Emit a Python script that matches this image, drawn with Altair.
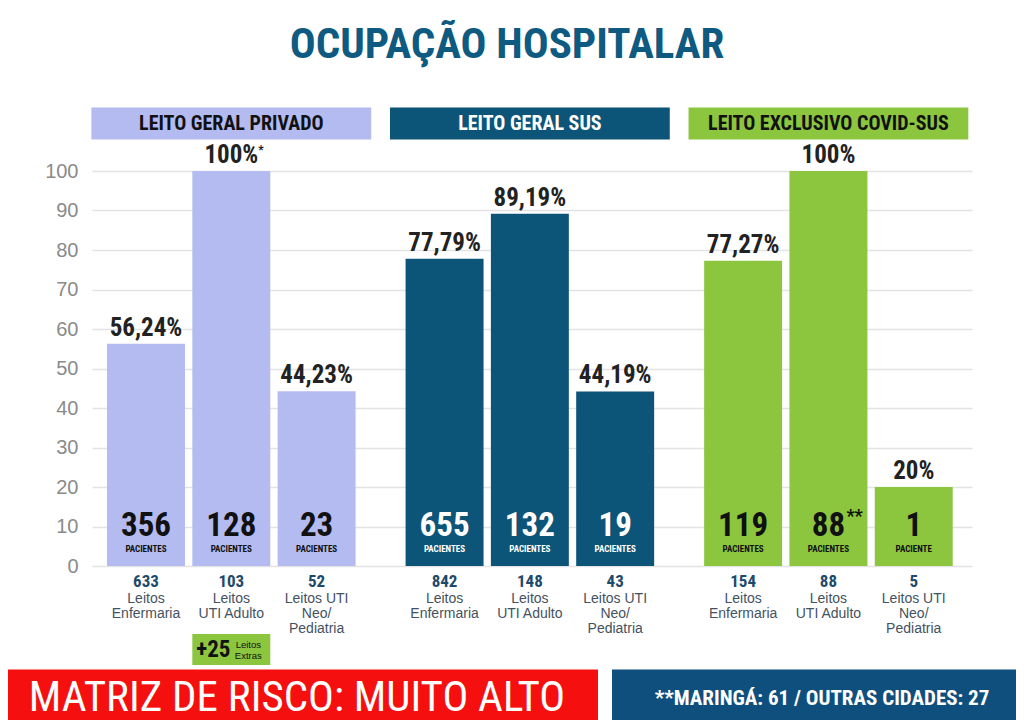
import altair as alt
import pandas as pd

# ---------------- data ----------------
title = "OCUPAÇÃO HOSPITALAR"
groups = ["LEITO GERAL PRIVADO", "LEITO GERAL SUS", "LEITO EXCLUSIVO COVID-SUS"]
bed_types = ["Leitos\nEnfermaria", "Leitos\nUTI Adulto", "Leitos UTI\nNeo/\nPediatria"]
occupancy = [56.24, 100, 44.23, 77.79, 89.19, 44.19, 77.27, 100, 20]
occupancy_labels = ["56,24%", "100%", "44,23%", "77,79%", "89,19%", "44,19%", "77,27%", "100%", "20%"]
occupancy_marks = ["", "*", "", "", "", "", "", "", ""]
patients = ["356", "128", "23", "655", "132", "19", "119", "88", "1"]
patient_marks = ["", "", "", "", "", "", "", "**", ""]
patient_words = ["PACIENTES"] * 8 + ["PACIENTE"]
beds = ["633", "103", "52", "842", "148", "43", "154", "88", "5"]
extra_beds = ["+25", "Leitos\nExtras"]
footer_left = "MATRIZ DE RISCO: MUITO ALTO"
footer_right = "**MARINGÁ: 61 / OUTRAS CIDADES: 27"

# ---------------- styles ----------------
group_fill = ["#b3bbf1", "#0d5479", "#8cc63e"]
group_text = ["#111111", "#ffffff", "#111111"]
COND = "Roboto Condensed, Liberation Sans Narrow, DejaVu Sans Condensed, Roboto, sans-serif"
PLAIN = "Liberation Sans, Arial, sans-serif"
GROUP_GAP = 3.5
HALF = 0.457

rows = []
for i, v in enumerate(occupancy):
    g, k = divmod(i, 3)
    pos = g * GROUP_GAP + k
    rows.append(dict(
        group=groups[g], pos=pos, lo=pos - HALF, hi=pos + HALF, base=0, pct=v,
        pct_label=occupancy_labels[i], pct_mark=occupancy_marks[i],
        patients=patients[i], pmark=patient_marks[i], pword=patient_words[i],
        beds=beds[i], btype=bed_types[k], fill=group_fill[g], tcolor=group_text[g],
    ))
df = pd.DataFrame(rows)

hdr = pd.DataFrame([
    dict(group=g, center=i * GROUP_GAP + 1, lo=i * GROUP_GAP + 1 - 1.64,
         hi=i * GROUP_GAP + 1 + 1.64, fill=group_fill[i], tcolor=group_text[i])
    for i, g in enumerate(groups)
])

xscale = alt.Scale(domain=[-0.633, 9.683], nice=False, zero=False)
yscale = alt.Scale(domain=[0, 100], nice=False)
yaxis = alt.Axis(
    values=list(range(0, 101, 10)), title=None, domain=False, ticks=False,
    labelFont=PLAIN, labelFontSize=20, labelColor="#8a8a8a", labelPadding=14,
    gridColor="#e3e3e3", gridWidth=1.5)


def X(f):
    return alt.X(f, type="quantitative", scale=xscale, axis=None)


def Y(f):
    return alt.Y(f, type="quantitative", scale=yscale, axis=yaxis)


base = alt.Chart(df)

bars = base.mark_rect().encode(
    x=X("lo"), x2=alt.X2("hi"), y=Y("pct"), y2=alt.Y2("base"),
    fill=alt.Fill("fill:N", scale=None),
)

pct_text = base.mark_text(font=COND, fontWeight="bold", fontSize=25, baseline="bottom",
                          dy=-3, color="#222222").encode(
    x=X("pos"), y=Y("pct"), text="pct_label:N")

pct_sup = base.mark_text(font=COND, fontWeight="bold", fontSize=12, baseline="bottom",
                         align="left", dx=27, dy=-14, color="#222222").encode(
    x=X("pos"), y=Y("pct"), text="pct_mark:N")

pat_num = base.mark_text(font=COND, fontWeight="bold", fontSize=33, baseline="middle").encode(
    x=X("pos"), y=alt.value(354.5), text="patients:N", fill=alt.Fill("tcolor:N", scale=None))

pat_sup = base.mark_text(font=COND, fontWeight="bold", fontSize=18, baseline="middle",
                         align="left", dx=18).encode(
    x=X("pos"), y=alt.value(346), text="pmark:N", fill=alt.Fill("tcolor:N", scale=None))

pat_word = base.mark_text(font=COND, fontWeight="bold", fontSize=9, baseline="middle").encode(
    x=X("pos"), y=alt.value(378), text="pword:N", fill=alt.Fill("tcolor:N", scale=None))

bed_num = base.mark_text(font=COND, fontWeight="bold", fontSize=17, baseline="middle",
                         color="#1d4a6b").encode(
    x=X("pos"), y=alt.value(410.5), text="beds:N")

bed_type = base.mark_text(font=PLAIN, fontSize=14, baseline="middle", lineBreak="\n",
                          lineHeight=15, color="#44525f").encode(
    x=X("pos"), y=alt.value(428), text="btype:N")

extra_df = pd.DataFrame([dict(lo=1 - HALF, hi=1 + HALF, pos=1, big=extra_beds[0], small=extra_beds[1])])
extra_box = alt.Chart(extra_df).mark_rect(fill="#8cc63e").encode(
    x=X("lo"), x2=alt.X2("hi"), y=alt.value(463), y2=alt.value(494))
extra_big = alt.Chart(extra_df).mark_text(font=COND, fontWeight="bold", fontSize=23,
                                          baseline="middle", color="#111111", dx=-18).encode(
    x=X("pos"), y=alt.value(479), text="big:N")
extra_small = alt.Chart(extra_df).mark_text(font=PLAIN, fontSize=9.5, baseline="middle",
                                            lineBreak="\n", lineHeight=11, color="#111111", dx=17).encode(
    x=X("pos"), y=alt.value(473.5), text="small:N")

hdr_box = alt.Chart(hdr).mark_rect().encode(
    x=X("lo"), x2=alt.X2("hi"), y=alt.value(-63.5), y2=alt.value(-31.5),
    fill=alt.Fill("fill:N", scale=None))
hdr_text = alt.Chart(hdr).mark_text(font=COND, fontWeight="bold", fontSize=20, baseline="middle").encode(
    x=X("center"), y=alt.value(-47), text="group:N", fill=alt.Fill("tcolor:N", scale=None))

title_df = pd.DataFrame({"t": [title]})
title_text = alt.Chart(title_df).mark_text(font=COND, fontWeight="bold", fontSize=43,
                                           baseline="middle", color="#0e5a80").encode(
    x=alt.value(415), y=alt.value(-126), text="t:N")

foot_df = pd.DataFrame({"left": [footer_left], "right": [footer_right]})
foot_red = alt.Chart(foot_df).mark_rect(fill="#f50f0f").encode(
    x=alt.value(-90), x2=alt.value(506), y=alt.value(498.5), y2=alt.value(570))
foot_blue = alt.Chart(foot_df).mark_rect(fill="#0f4f7d").encode(
    x=alt.value(520), x2=alt.value(940), y=alt.value(498.5), y2=alt.value(570))
foot_left_t = alt.Chart(foot_df).mark_text(font=COND, fontSize=43, baseline="middle",
                                           color="#ffffff").encode(
    x=alt.value(205), y=alt.value(527), text="left:N")
foot_right_t = alt.Chart(foot_df).mark_text(font=COND, fontWeight="bold", fontSize=21,
                                            baseline="middle", color="#ffffff").encode(
    x=alt.value(730), y=alt.value(528), text="right:N")

chart = alt.layer(
    bars, hdr_box, hdr_text, title_text, pct_text, pct_sup, pat_num, pat_sup, pat_word,
    bed_num, bed_type, extra_box, extra_big, extra_small,
    foot_red, foot_blue, foot_left_t, foot_right_t,
).properties(
    width=880, height=395,
    autosize=alt.AutoSizeParams(type="none"),
    padding={"left": 84, "top": 163, "right": 44, "bottom": 154},
    background="#ffffff",
).configure_view(stroke=None)

chart.save("out.html", embed_options={"renderer": "svg", "actions": False})
